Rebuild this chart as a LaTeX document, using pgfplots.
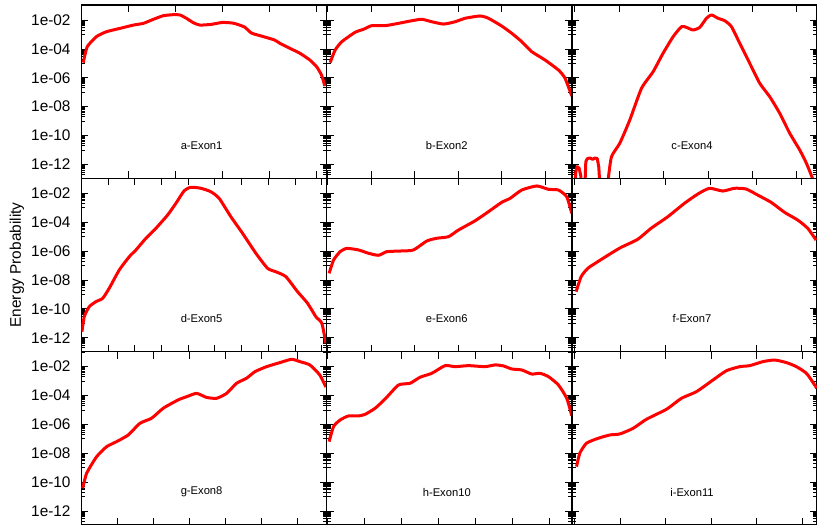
\documentclass[border=0pt]{standalone}
\usepackage{fontspec}
\setmainfont{Liberation Sans}
\usepackage{pgfplots}
\pgfplotsset{compat=1.18}
\usepgfplotslibrary{groupplots}

\definecolor{cred}{RGB}{255,0,0}

% y values are log10 of the energy probability
\pgfplotsset{
  exon/.style={
    scale only axis, width=122.65pt, height=86.7pt,
    ymin=-12.96, ymax=-0.96,
    ytick={-12,-10,-8,-6,-4,-2},
    minor ytick={-12.699,-12.523,-12.398,-12.301,-12.222,-12.155,-12.097,-12.046,
      -11,-10.699,-10.523,-10.398,-10.301,-10.222,-10.155,-10.097,-10.046,
      -9,-8.699,-8.523,-8.398,-8.301,-8.222,-8.155,-8.097,-8.046,
      -7,-6.699,-6.523,-6.398,-6.301,-6.222,-6.155,-6.097,-6.046,
      -5,-4.699,-4.523,-4.398,-4.301,-4.222,-4.155,-4.097,-4.046,
      -3,-2.699,-2.523,-2.398,-2.301,-2.222,-2.155,-2.097,-2.046,-1},
    xticklabels={}, yticklabels={},
    tick align=inside,
    major tick length=3.5pt, minor tick length=2pt,
    axis line style={black, line width=0.8pt},
    every tick/.style={black, line width=0.4pt},
    yticklabel style={font=\fontsize{7.7}{9}\selectfont, anchor=east,
                      inner xsep=0pt, xshift=-5.25pt},
  },
  leftcol/.style={yticklabels={1e-12,1e-10,1e-08,1e-06,1e-04,1e-02}},
  col1/.style={xmin=0, xmax=245.3},
  col2/.style={xmin=-1.2, xmax=244.1},
  col3/.style={xmin=-3, xmax=242.3},
  exline/.style={cred, line width=1.5pt, line join=round, no markers, smooth, tension=0.35},
}
\tikzset{lab/.style={font=\fontsize{5.6}{7}\selectfont}}

\begin{document}
\begin{tikzpicture}
\begin{groupplot}[group style={group size=3 by 3, horizontal sep=0pt, vertical sep=0pt}, exon]

\nextgroupplot[col1, leftcol, xtick distance=47]
\addplot[exline] coordinates {
  (1.8,-4.95) (5.8,-3.85) (15,-3.15) (25,-2.81) (38.5,-2.58) (52,-2.35)
  (62,-2.23) (72,-1.95) (82,-1.70) (92,-1.63) (98.5,-1.65) (105,-1.88)
  (112,-2.19) (118.5,-2.35) (130,-2.30) (141,-2.17) (152,-2.22) (163,-2.48)
  (170,-2.90) (180,-3.11) (193,-3.38) (198.5,-3.61) (208.5,-3.96) (218.5,-4.30)
  (228.5,-4.77) (235.2,-5.23) (240.2,-5.81) (243.5,-6.57)
};
\node[lab] at (rel axis cs:0.49,0.19) {a-Exon1};

\nextgroupplot[col2, xtick distance=43.5]
\addplot[exline] coordinates {
  (2.3,-4.95) (7.3,-4.08) (14,-3.50) (27.3,-2.85) (35.7,-2.64) (44,-2.39)
  (57.3,-2.39) (70.7,-2.23) (84,-2.05) (94,-1.95) (104,-2.12) (115.7,-2.28)
  (127.3,-2.12) (137.3,-1.88) (152.3,-1.72) (160.7,-1.88) (174,-2.42) (184,-2.92)
  (194,-3.50) (204,-4.19) (217.3,-4.77) (230.7,-5.46) (237.3,-6.03) (244,-7.26)
};
\node[lab] at (rel axis cs:0.49,0.19) {b-Exon2};

\nextgroupplot[col3, xtick distance=44.4]
\addplot[cred, line width=1.5pt, line join=round, no markers] coordinates {
  (0,-13.5) (1,-12.5) (2.3,-12.15) (4.3,-12.26) (6,-12.8) (7.3,-14)
  (9.8,-14) (11,-11.8) (12.5,-11.6) (15,-11.55) (18,-11.65) (20,-11.55)
  (22.5,-11.6) (24,-12.2) (25.5,-14)
};
\addplot[exline] coordinates {
  (32,-14) (33.3,-13.07) (36.7,-11.46) (45,-10.53) (55,-8.92) (66.7,-6.73)
  (78.3,-5.58) (88.3,-4.30) (98.3,-3.16) (106.7,-2.46) (111.7,-2.51) (118.3,-2.69)
  (125,-2.51) (131.7,-1.88) (136.7,-1.65) (143.3,-1.88) (150,-2.05) (156.7,-2.46)
  (165,-3.61) (175,-5.00) (185,-6.38) (195,-7.31) (205,-8.46) (215,-9.84)
  (225,-11.00) (231.7,-11.92) (238.3,-13.07) (241,-14)
};
\node[lab] at (rel axis cs:0.49,0.19) {c-Exon4};

\nextgroupplot[col1, leftcol, xtick distance=26.7]
\addplot[exline] coordinates {
  (0.5,-11.58) (2.8,-10.54) (7.8,-9.85) (14.5,-9.50) (21.2,-9.27) (27.8,-8.57)
  (37.8,-7.31) (47.8,-6.39) (54.5,-5.92) (64.5,-5.11) (74.5,-4.42) (86.2,-3.50)
  (94.5,-2.69) (102.8,-1.82) (109.5,-1.58) (119.5,-1.65) (129.5,-1.89) (137.8,-2.35)
  (149.5,-3.62) (161.2,-4.77) (174.5,-6.15) (186.2,-7.19) (194.5,-7.43) (204.5,-7.77)
  (216.2,-8.81) (226.2,-9.61) (234.5,-10.54) (240.5,-11.00) (244.5,-12.38)
};
\node[lab] at (rel axis cs:0.49,0.19) {d-Exon5};

\nextgroupplot[col2, xtick distance=43.5]
\addplot[exline] coordinates {
  (1.3,-7.54) (5.7,-6.62) (12.3,-6.04) (19,-5.81) (30.7,-5.92) (40.7,-6.15)
  (50.7,-6.29) (59,-6.04) (74,-5.99) (85.7,-5.92) (99,-5.30) (109,-5.11)
  (120.7,-5.00) (130.7,-4.54) (147.3,-3.90) (160.7,-3.27) (174,-2.62) (182.3,-2.35)
  (194,-1.77) (209,-1.49) (220.7,-1.72) (230.7,-1.77) (239,-2.24) (244,-3.38)
};
\node[lab] at (rel axis cs:0.49,0.19) {e-Exon6};

\nextgroupplot[col3, xtick distance=45.3]
\addplot[exline] coordinates {
  (1.3,-8.81) (6.3,-7.77) (13,-7.19) (23,-6.73) (36.3,-6.15) (46.3,-5.74)
  (63,-5.18) (76.3,-4.42) (93,-3.62) (109.7,-2.69) (123,-2.05) (134.7,-1.65)
  (148,-1.84) (159.7,-1.65) (171.3,-1.70) (183,-2.12) (196.3,-2.62) (209.7,-3.31)
  (223,-3.85) (233,-4.42) (241.3,-5.23)
};
\node[lab] at (rel axis cs:0.49,0.19) {f-Exon7};

\nextgroupplot[col1, leftcol, xtick distance=36]
\addplot[exline] coordinates {
  (1.2,-10.42) (5.2,-9.38) (15.2,-8.23) (25.2,-7.54) (35.2,-7.19) (46.8,-6.73)
  (58.5,-5.92) (70.2,-5.57) (81.8,-4.88) (96.8,-4.30) (105.2,-4.08) (115.2,-3.85)
  (125.2,-4.13) (135.2,-4.19) (145.2,-3.85) (155.2,-3.15) (165.2,-2.80) (173.5,-2.35)
  (185.2,-2.00) (198.5,-1.72) (210.2,-1.49) (218.5,-1.65) (228.5,-1.88) (238.5,-2.58)
  (244.5,-3.41)
};
\node[lab] at (rel axis cs:0.49,0.19) {g-Exon8};

\nextgroupplot[col2, xtick distance=37]
\addplot[exline] coordinates {
  (1.3,-7.19) (5.7,-6.15) (12.3,-5.69) (20.7,-5.41) (30.7,-5.41) (37.3,-5.30)
  (47.3,-4.88) (57.3,-4.24) (70.7,-3.27) (82.3,-3.15) (92.3,-2.73) (104,-2.46)
  (117.3,-1.93) (127.3,-2.00) (140.7,-1.93) (157.3,-2.00) (167.3,-1.88) (175.7,-1.95)
  (184,-2.16) (194,-2.23) (204,-2.51) (212.3,-2.46) (220.7,-2.69) (230.7,-3.27)
  (239,-4.19) (244,-5.39)
};
\node[lab] at (rel axis cs:0.49,0.19) {h-Exon10};

\nextgroupplot[col3, xtick distance=45.5]
\addplot[exline] coordinates {
  (1.7,-8.92) (5,-7.99) (11.7,-7.30) (23.3,-6.96) (35,-6.73) (45,-6.66)
  (58.3,-6.27) (71.7,-5.64) (91.7,-4.95) (106.7,-4.19) (121.7,-3.73) (138.3,-2.92)
  (151.7,-2.28) (165,-2.00) (175,-1.93) (188.3,-1.65) (200,-1.54) (211.7,-1.72)
  (221.7,-2.00) (231.7,-2.46) (240,-3.27) (242,-3.50)
};
\node[lab] at (rel axis cs:0.49,0.19) {i-Exon11};

\end{groupplot}
\node[rotate=90, font=\fontsize{7.7}{9}\selectfont] at ([xshift=-32.25pt]group c1r2.west) {Energy Probability};
\pgfresetboundingbox
\path ([xshift=-40.75pt,yshift=2.5pt]group c1r1.north west) rectangle (group c3r3.south east);
\end{tikzpicture}
\end{document}
